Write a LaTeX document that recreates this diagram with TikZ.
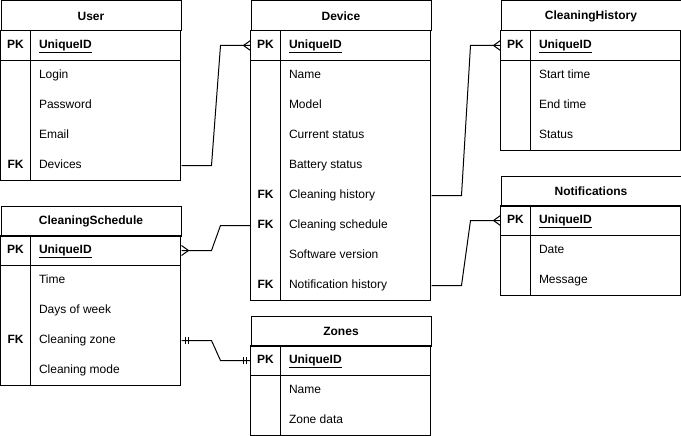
\documentclass[tikz,border=0pt]{standalone}
\usepackage{fontspec}
\setmainfont{Liberation Sans}
\usetikzlibrary{decorations.markings}
\begin{document}
\begin{tikzpicture}[x=1pt,y=-1pt,line width=1pt,font=\fontsize{12}{14}\selectfont,
        head/.style={draw,anchor=north west,minimum width=180pt,minimum height=30pt,inner sep=0pt,font=\fontsize{12}{14}\selectfont\bfseries},
        key/.style={inner sep=0pt,text height=8.5pt,text depth=2.5pt,font=\fontsize{12}{14}\selectfont\bfseries},
        field/.style={anchor=west,inner sep=0pt,text height=8.5pt,text depth=2.5pt},
        pk/.style={field,font=\fontsize{12}{14}\selectfont\bfseries},
        many/.style={postaction={decorate,decoration={markings,
            mark=at position -7pt with {\draw[line width=1pt] (0pt,0pt) -- (7pt,5pt) (0pt,0pt) -- (7pt,-5pt);}}}},
        one/.style={postaction={decorate,decoration={markings,
            mark=at position 4pt with {\draw[line width=1pt] (0pt,-3.5pt) -- (0pt,3.5pt);},
            mark=at position 7pt with {\draw[line width=1pt] (0pt,-3.5pt) -- (0pt,3.5pt);},
            mark=at position -4pt with {\draw[line width=1pt] (0pt,-3.5pt) -- (0pt,3.5pt);},
            mark=at position -7pt with {\draw[line width=1pt] (0pt,-3.5pt) -- (0pt,3.5pt);}}}}]
    \useasboundingbox (0,0) rectangle (681,436);
    \begin{scope}[shift={(0.5,0.5)}]
    % User
    \node[head] at (0,0)(user){User};
    \draw (0,30) rectangle (180,60);
    \draw (0,60) rectangle (180,180);
    \draw (30,30) -- (30,180);
    \node[key] at (15,45){PK};
    \node[pk] at (38,45)(user-id){\underline{UniqueID}};
    \foreach \f [count=\i] in {Login,Password,Email,Devices}
        \node[field] at (38,45+30*\i)(user-\i){\f};
    \node[key] at (15,165){FK};
    % Device
    \node[head] at (250,0)(dev){Device};
    \draw (250,30) rectangle (430,60);
    \draw (250,60) rectangle (430,300);
    \draw (280,30) -- (280,300);
    \node[key] at (265,45){PK};
    \node[pk] at (288,45)(dev-id){\underline{UniqueID}};
    \foreach \f [count=\i] in {Name,Model,Current status,Battery status,Cleaning history,Cleaning schedule,Software version,Notification history}
        \node[field] at (288,45+30*\i)(dev-\i){\f};
    \foreach \i in {5,6,8}
        \node[key] at (265,45+30*\i){FK};
    % CleaningHistory
    \node[head] at (500,0)(hist){CleaningHistory};
    \draw (500,30) rectangle (680,60);
    \draw (500,60) rectangle (680,150);
    \draw (530,30) -- (530,150);
    \node[key] at (515,45){PK};
    \node[pk] at (538,45)(hist-id){\underline{UniqueID}};
    \foreach \f [count=\i] in {Start time,End time,Status}
        \node[field] at (538,45+30*\i)(hist-\i){\f};
    % Notifications
    \node[head] at (500,175)(note){Notifications};
    \draw (500,205) rectangle (680,235);
    \draw (500,235) rectangle (680,295);
    \draw (530,205) -- (530,295);
    \node[key] at (515,220){PK};
    \node[pk] at (538,220)(note-id){\underline{UniqueID}};
    \foreach \f [count=\i] in {Date,Message}
        \node[field] at (538,220+30*\i)(note-\i){\f};
    % CleaningSchedule
    \node[head] at (0,205)(sched){CleaningSchedule};
    \draw (0,235) rectangle (180,265);
    \draw (0,265) rectangle (180,385);
    \draw (30,235) -- (30,385);
    \node[key] at (15,250){PK};
    \node[pk] at (38,250)(sched-id){\underline{UniqueID}};
    \foreach \f [count=\i] in {Time,Days of week,Cleaning zone,Cleaning mode}
        \node[field] at (38,250+30*\i)(sched-\i){\f};
    \node[key] at (15,340){FK};
    % Zones
    \node[head] at (250,315)(zone){Zones};
    \draw (250,345) rectangle (430,375);
    \draw (250,375) rectangle (430,435);
    \draw (280,345) -- (280,435);
    \node[key] at (265,360){PK};
    \node[pk] at (288,360)(zone-id){\underline{UniqueID}};
    \foreach \f [count=\i] in {Name,Zone data}
        \node[field] at (288,360+30*\i)(zone-\i){\f};
    % relations
    \draw[many] (user-4 -| user.east) -- ++(30,0) -- ([xshift=-30pt]dev-id -| dev.west) -- (dev-id -| dev.west);
    \draw[many] (dev-5 -| dev.east) -- ++(30,0) -- ([xshift=-30pt]hist-id -| hist.west) -- (hist-id -| hist.west);
    \draw[many] (dev-8 -| dev.east) -- ++(30,0) -- ([xshift=-30pt]note-id -| note.west) -- (note-id -| note.west);
    \draw[many] (dev-6 -| dev.west) -- ++(-30,0) -- ([xshift=30pt]sched-id -| sched.east) -- (sched-id -| sched.east);
    \draw[one] (sched-3 -| sched.east) -- ++(30,0) -- ([xshift=-30pt]zone-id -| zone.west) -- (zone-id -| zone.west);
    \end{scope}
\end{tikzpicture}
\end{document}
